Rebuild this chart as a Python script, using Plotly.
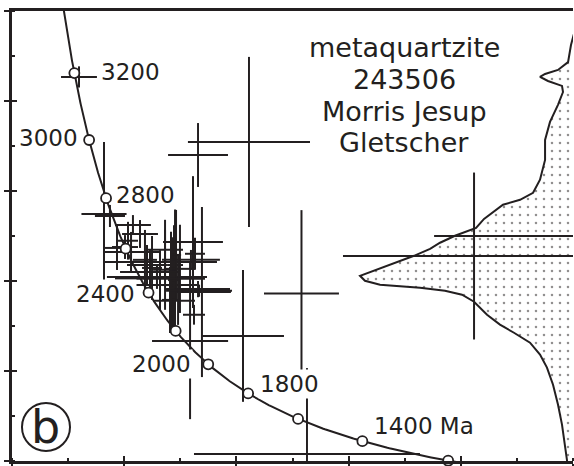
import numpy as np
import plotly.graph_objects as go

INK = "#231f20"
FONT = "DejaVu Sans"

# Zircon spots: 238U/206Pb, 207Pb/206Pb and their error half-widths
spot_x = [1.597, 3.112, 2.658, 3.580, 3.059, 3.629, 5.118, 6.152, 1.820, 2.587,
          2.693, 2.613, 1.873, 2.078, 2.141, 2.007, 2.061, 2.319, 2.203, 2.230,
          2.292, 2.319, 2.444, 2.658, 2.453, 2.426, 2.444, 2.408, 1.936, 2.248,
          2.364, 2.497, 2.185, 2.034, 2.622, 2.631, 2.595, 2.364, 2.462, 2.417,
          2.480, 2.667, 2.319]
spot_y = [0.2507, 0.2218, 0.2160, 0.1544, 0.1356, 0.0831, 0.1711, 0.1800, 0.1898, 0.1333,
          0.1551, 0.1773, 0.1889, 0.1849, 0.1809, 0.1751, 0.1729, 0.1684, 0.1671, 0.1640,
          0.1618, 0.1582, 0.1512, 0.1564, 0.1671, 0.1582, 0.1604, 0.1516, 0.1747, 0.1658,
          0.1650, 0.1654, 0.1694, 0.1779, 0.1450, 0.1721, 0.1694, 0.1739, 0.1716, 0.1641,
          0.1561, 0.1557, 0.1610]
spot_ex = [0.160, 0.544, 0.267, 0.334, 0.365, 1.007, 1.168, 1.390, 0.201, 0.339,
           0.258, 0.267, 0.134, 0.160, 0.160, 0.116, 0.250, 0.508, 0.178, 0.267,
           0.446, 0.330, 0.187, 0.285, 0.071, 0.089, 0.053, 0.071, 0.107, 0.089,
           0.107, 0.134, 0.107, 0.089, 0.098, 0.089, 0.258, 0.160, 0.045, 0.053,
           0.036, 0.294, 0.401]
spot_ey = [0.0047, 0.0378, 0.0142, 0.0371, 0.0293, 0.0382, 0.0371, 0.0090, 0.0320, 0.0347,
           0.0378, 0.0293, 0.0049, 0.0044, 0.0062, 0.0053, 0.0089, 0.0053, 0.0089, 0.0098,
           0.0053, 0.0111, 0.0058, 0.0036, 0.0298, 0.0213, 0.0244, 0.0147, 0.0098, 0.0142,
           0.0178, 0.0196, 0.0133, 0.0084, 0.0044, 0.0071, 0.0044, 0.0133, 0.0200, 0.0178,
           0.0156, 0.0027, 0.0018]

# Relative probability of 207Pb/206Pb ages, drawn against the right edge
dens_x = [6.018, 5.982, 5.956, 5.866, 5.751, 5.706, 5.777, 5.902, 5.911, 5.866,
          5.795, 5.751, 5.751, 5.706, 5.644, 5.528, 5.376, 5.296, 5.207, 5.136,
          5.038, 4.948, 4.815, 4.726, 4.583, 4.414, 4.235, 4.102, 4.146, 4.280,
          4.637, 4.859, 5.011, 5.118, 5.234, 5.349, 5.474, 5.617, 5.706, 5.768,
          5.822, 5.866, 5.902, 5.929, 5.947, 5.956]
dens_y = [0.2716, 0.2649, 0.2573, 0.2538, 0.2520, 0.2507, 0.2489, 0.2467, 0.2440, 0.2383,
          0.2307, 0.2227, 0.2138, 0.2050, 0.1992, 0.1961, 0.1939, 0.1908, 0.1876, 0.1836,
          0.1819, 0.1801, 0.1770, 0.1743, 0.1712, 0.1681, 0.1650, 0.1623, 0.1601, 0.1583,
          0.1570, 0.1557, 0.1539, 0.1508, 0.1450, 0.1406, 0.1370, 0.1326, 0.1273, 0.1215,
          0.1139, 0.1051, 0.0962, 0.0873, 0.0802, 0.0740]

# Concordia age marks (Ma) and the ones that carry a label
age_marks = [1200, 1400, 1600, 1800, 2000, 2200, 2400, 2600, 2800, 3000, 3200]
age_labels = {3200: ("3200", "left", 25, 1), 3000: ("3000", "right", -9, 2),
              2800: ("2800", "left", 8, 3), 2400: ("2400", "right", -12, -1),
              2000: ("2000", "right", -15, 0), 1800: ("1800", "left", 10, 9),
              1400: ("1400 Ma", "left", 10, 15)}

title_lines = ["metaquartzite", "243506", "Morris Jesup", "Gletscher"]

L238 = 1.55125e-4  # per Ma
L235 = 9.8485e-4   # per Ma
U85 = 137.88


def tera_wasserburg(t):
    t = np.asarray(t, dtype=float)
    e8 = np.exp(L238 * t) - 1.0
    e5 = np.exp(L235 * t) - 1.0
    return 1.0 / e8, e5 / e8 / U85


fig = go.Figure()

# probability density, stippled
fig.add_trace(go.Scatter(
    x=dens_x + [6.6, 6.6], y=dens_y + [dens_y[-1], dens_y[0]],
    mode="lines", fill="toself", line=dict(color=INK, width=2),
    fillcolor="white",
    fillpattern=dict(shape=".", size=8, solidity=0.08, fgcolor=INK, bgcolor="white"),
    hoverinfo="skip", showlegend=False))

# error crosses
fig.add_trace(go.Scatter(
    x=spot_x, y=spot_y, mode="markers",
    marker=dict(size=1, color="rgba(0,0,0,0)"),
    error_x=dict(type="data", array=spot_ex, thickness=2, width=0, color=INK),
    error_y=dict(type="data", array=spot_ey, thickness=2, width=0, color=INK),
    showlegend=False))

# concordia curve
t_curve = np.arange(1150, 3460, 5)
cx, cy = tera_wasserburg(t_curve)
fig.add_trace(go.Scatter(x=cx, y=cy, mode="lines", line=dict(color=INK, width=2),
                         showlegend=False, hoverinfo="skip"))
mx, my = tera_wasserburg(age_marks)
fig.add_trace(go.Scatter(x=mx, y=my, mode="markers", cliponaxis=False,
                         marker=dict(size=10, color="white", line=dict(color=INK, width=1.8)),
                         showlegend=False))

annotations = []
for age, (txt, anchor, dx, dy) in age_labels.items():
    ax_, ay_ = tera_wasserburg(age)
    annotations.append(dict(x=float(ax_), y=float(ay_), xref="x", yref="y", text=txt,
                            showarrow=False, xanchor=anchor, yanchor="middle",
                            xshift=dx, yshift=dy, bgcolor="white", borderpad=1,
                            font=dict(family=FONT, size=23, color=INK)))

title_y = [0.918, 0.847, 0.776, 0.707]
for line, yy in zip(title_lines, title_y):
    annotations.append(dict(x=0.699, y=yy, xref="paper", yref="paper", text=line,
                            showarrow=False, xanchor="center", yanchor="middle",
                            font=dict(family=FONT, size=27, color=INK)))

annotations.append(dict(x=0.0606, y=0.0756, xref="paper", yref="paper", text="b",
                        showarrow=False, xanchor="center", yanchor="middle",
                        font=dict(family=FONT, size=46, color=INK)))

# invisible trace so the tick-only overlay axes are drawn
fig.add_trace(go.Scatter(x=[1], y=[0.08], xaxis="x2", yaxis="y2", mode="markers",
                         marker=dict(size=1, color="rgba(0,0,0,0)"), showlegend=False,
                         hoverinfo="skip"))

axis_common = dict(showgrid=False, zeroline=False, showticklabels=False)
fig.update_layout(
    width=574, height=466,
    margin=dict(l=12, r=1, t=11, b=5),
    paper_bgcolor="white", plot_bgcolor="white",
    xaxis=dict(range=[1, 6], showline=True, linecolor=INK, linewidth=2.5, mirror=True,
               ticks="outside", tick0=1, dtick=1, ticklen=5, tickwidth=1.5, tickcolor=INK,
               minor=dict(ticks="inside", dtick=0.5, ticklen=3, tickwidth=1.5, tickcolor=INK),
               **axis_common),
    yaxis=dict(range=[0.08, 0.28], showline=True, linecolor=INK, linewidth=2.5,
               ticks="outside", tick0=0.08, dtick=0.04, ticklen=5, tickwidth=1.5, tickcolor=INK,
               minor=dict(ticks="inside", dtick=0.02, ticklen=3, tickwidth=1.5, tickcolor=INK),
               **axis_common),
    xaxis2=dict(range=[1, 6], overlaying="x", anchor="y2", side="bottom",
                ticks="inside", tick0=1, dtick=1, ticklen=5, tickwidth=1.5, tickcolor=INK,
                showline=False, **axis_common),
    yaxis2=dict(range=[0.08, 0.28], overlaying="y", anchor="x2", side="left",
                ticks="inside", tick0=0.08, dtick=0.04, ticklen=5, tickwidth=1.5, tickcolor=INK,
                showline=False, **axis_common),
    annotations=annotations,
    shapes=[dict(type="circle", xref="paper", yref="paper",
                 x0=0.0178, x1=0.1034, y0=0.0222, y1=0.1289,
                 line=dict(color=INK, width=2))],
)

fig.write_html("out.html")
